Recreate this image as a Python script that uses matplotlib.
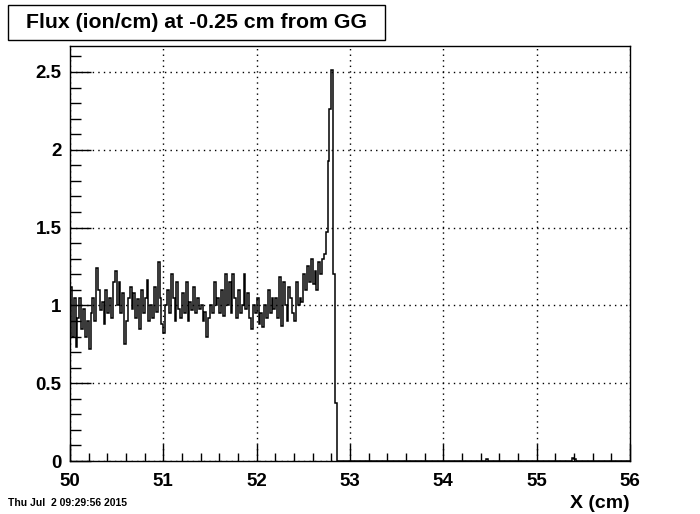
import numpy as np
import matplotlib
matplotlib.use('Agg')
import matplotlib.pyplot as plt
from matplotlib.patches import Rectangle
from matplotlib.ticker import MultipleLocator

# histogram: 300 bins of 0.02 cm between 50 and 56
x_lo, x_hi, n_bins = 50.0, 56.0, 300

# bin contents (bins 0..142), rest are empty
flux_start = [
    1.12, 0.80, 1.05, 0.73, 0.92, 1.05, 0.85, 0.98, 0.80, 0.90,
    0.72, 0.95, 1.05, 0.90, 1.24, 1.10, 0.97, 1.02, 0.88, 1.10,
    0.95, 1.05, 0.92, 1.15, 1.22, 1.00, 1.15, 0.95, 1.08, 0.75,
    0.90, 1.05, 1.12, 0.98, 1.08, 0.92, 1.04, 0.85, 1.10, 0.95,
    1.05, 1.16, 0.90, 1.00, 0.92, 1.12, 0.96, 1.28, 1.05, 0.88,
    0.82, 1.00, 1.10, 0.95, 1.20, 1.05, 0.90, 1.15, 0.98, 0.92,
    1.08, 0.95, 1.15, 0.90, 1.02, 0.97, 1.12, 0.95, 1.05, 0.98,
    1.00, 0.90, 0.96, 0.80, 0.92, 1.00, 0.95, 1.15, 1.00, 1.05,
    0.95, 1.10, 0.93, 1.20, 1.00, 1.15, 0.95, 1.20, 1.05, 0.92,
    1.10, 0.95, 1.00, 1.20, 0.98, 1.08, 0.92, 0.85, 1.00, 0.95,
    1.05, 0.88, 0.95, 0.86, 1.00, 0.92, 1.10, 0.95, 1.05, 0.98,
    1.05, 0.92, 1.18, 0.87, 1.15, 1.00, 0.90, 1.12, 1.05, 0.95,
    0.90, 1.15, 1.00, 1.05, 1.02, 1.20, 1.10, 1.25, 1.15, 1.30,
    1.14, 1.22, 1.10, 1.28, 1.20, 1.30, 1.33,
    1.47, 1.93, 2.26, 2.51, 1.20, 0.37,
]
# a few tiny bins far out
tail_bins = [223, 269, 270]
tail_vals = [0.01, 0.02, 0.01]

flux = np.zeros(n_bins)
flux[:len(flux_start)] = flux_start
flux[tail_bins] = tail_vals
edges = np.linspace(x_lo, x_hi, n_bins + 1)

W, H = 700, 514
fig = plt.figure(figsize=(W / 100, H / 100), dpi=100)
ax = fig.add_axes([70 / W, 1 - 461 / H, 560 / W, 415 / H])

ax.stairs(flux, edges, color='black', lw=1.1, baseline=None)

ax.set_xlim(x_lo, x_hi)
ax.set_ylim(0, 2.667)
ax.xaxis.set_major_locator(MultipleLocator(1))
ax.xaxis.set_minor_locator(MultipleLocator(0.2))
ax.yaxis.set_major_locator(MultipleLocator(0.5))
ax.yaxis.set_minor_locator(MultipleLocator(0.1))
ax.yaxis.set_major_formatter(matplotlib.ticker.FuncFormatter(lambda v, p: '%g' % v))

ax.tick_params(axis='x', which='major', direction='in', length=12, width=1, pad=9)
ax.tick_params(axis='x', which='minor', direction='in', length=6, width=1)
ax.tick_params(axis='y', which='major', direction='in', length=15, width=1, pad=6)
ax.tick_params(axis='y', which='minor', direction='in', length=8, width=1)
ax.tick_params(labelsize=13.5)
for lab in ax.get_xticklabels() + ax.get_yticklabels():
    lab.set_family('Liberation Sans')
    lab.set_fontweight('bold')

ax.grid(True, which='major', color='black', linestyle=(0, (1, 3)), lw=1)
for s in ax.spines.values():
    s.set_linewidth(1)

# x axis title, right aligned under the axis
fig.text(630 / W, 1 - 504 / H, 'X (cm)', ha='right', va='center',
         fontsize=14, fontweight='bold', family='Liberation Sans')

# title box
fig.patches.append(Rectangle((8 / W, 1 - 40 / H), 377 / W, 35 / H,
                             transform=fig.transFigure, facecolor='white',
                             edgecolor='black', lw=1))
fig.text(197 / W, 1 - 22 / H, 'Flux (ion/cm) at -0.25 cm from GG', ha='center',
         va='center', fontsize=15.3, fontweight='bold', family='Liberation Sans')

# date stamp
fig.text(8 / W, 1 - 503 / H, 'Thu Jul  2 09:29:56 2015', ha='left', va='center',
         fontsize=7.5, fontweight='bold',
         family=['Liberation Sans Narrow', 'Liberation Sans'])

fig.savefig('out.png', dpi=100)
